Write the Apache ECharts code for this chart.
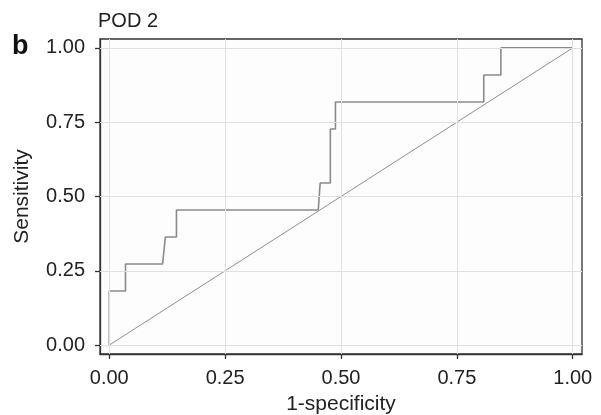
<!DOCTYPE html>
<html>
<head>
<meta charset="utf-8">
<script src="https://cdn.jsdelivr.net/npm/echarts@6/dist/echarts.min.js"></script>
<style>
html,body{margin:0;padding:0;background:#fff;}
#chart{width:601px;height:415px;}
</style>
</head>
<body>
<div id="chart"></div>
<script>
// ROC curve (POD 2)
var fpr = [0, 0, 0.035, 0.035, 0.115, 0.121, 0.145, 0.145, 0.451, 0.455, 0.477, 0.477, 0.488, 0.488, 0.808, 0.808, 0.845, 0.845, 1.0];
var tpr = [0, 0.1818, 0.1818, 0.2727, 0.2727, 0.3636, 0.3636, 0.4545, 0.4545, 0.5455, 0.5455, 0.7273, 0.7273, 0.8182, 0.8182, 0.9091, 0.9091, 1.0, 1.0];
var diagX = [0, 1];
var diagY = [0, 1];
var xTicks = [0, 0.25, 0.5, 0.75, 1.0];
var yTicks = [0, 0.25, 0.5, 0.75, 1.0];
var panelTitle = 'POD 2';
var panelTag = 'b';
var xName = '1-specificity';
var yName = 'Sensitivity';

function pairs(xs, ys) { return xs.map(function (x, i) { return [x, ys[i]]; }); }

var FONT = 'Liberation Sans, Arial, Helvetica, sans-serif';
var gridMarks = xTicks.map(function (v) { return { xAxis: v }; })
  .concat(yTicks.map(function (v) { return { yAxis: v }; }));

var chart = echarts.init(document.getElementById('chart'), null, { renderer: 'canvas' });
chart.setOption({
  animation: false,
  backgroundColor: '#ffffff',
  title: [
    { text: panelTitle, left: 93, top: 6, padding: 5, textStyle: { fontFamily: FONT, fontSize: 20, fontWeight: 'normal', color: '#222' } },
    { text: panelTag, left: 7, top: 28, padding: 5, textStyle: { fontFamily: FONT, fontSize: 27, fontWeight: 'bold', color: '#111' } }
  ],
  grid: { left: 100, right: 19, top: 39, bottom: 61, containLabel: false, outerBoundsMode: 'none', show: true, borderColor: '#333', borderWidth: 1.3, backgroundColor: '#fdfdfd' },
  xAxis: {
    type: 'value', min: -0.02, max: 1.02,
    name: xName, nameLocation: 'middle', nameGap: 40,
    nameTextStyle: { fontFamily: FONT, fontSize: 21, color: '#222' },
    axisLine: { show: true, onZero: false, lineStyle: { color: '#333', width: 1.3 } },
    axisTick: { show: true, length: 5, customValues: xTicks, lineStyle: { color: '#333', width: 1.3 } },
    axisLabel: { customValues: xTicks, margin: 14, fontFamily: FONT, fontSize: 20, color: '#222', formatter: function (v) { return v.toFixed(2); } },
    splitLine: { show: false }
  },
  yAxis: {
    type: 'value', min: -0.03, max: 1.03,
    name: yName, nameLocation: 'middle', nameGap: 67, nameRotate: 90,
    nameTextStyle: { fontFamily: FONT, fontSize: 21, color: '#222' },
    axisLine: { show: true, onZero: false, lineStyle: { color: '#333', width: 1.3 } },
    axisTick: { show: true, length: 5, customValues: yTicks, lineStyle: { color: '#333', width: 1.3 } },
    axisLabel: { customValues: yTicks, margin: 15, fontFamily: FONT, fontSize: 20, color: '#222', formatter: function (v) { return v.toFixed(2); } },
    splitLine: { show: false }
  },
  series: [
    {
      type: 'line', data: [], silent: true,
      markLine: { silent: true, symbol: ['none', 'none'], label: { show: false },
        lineStyle: { color: '#e0e0e0', width: 1, type: 'solid' }, data: gridMarks, animation: false }
    },
    {
      type: 'line', data: pairs(diagX, diagY), showSymbol: false, silent: true,
      lineStyle: { color: '#8f8f8f', width: 1 }
    },
    {
      type: 'line', data: pairs(fpr, tpr), showSymbol: false, silent: true,
      lineStyle: { color: '#8a8a8a', width: 1.6 }
    }
  ]
});
</script>
</body>
</html>
